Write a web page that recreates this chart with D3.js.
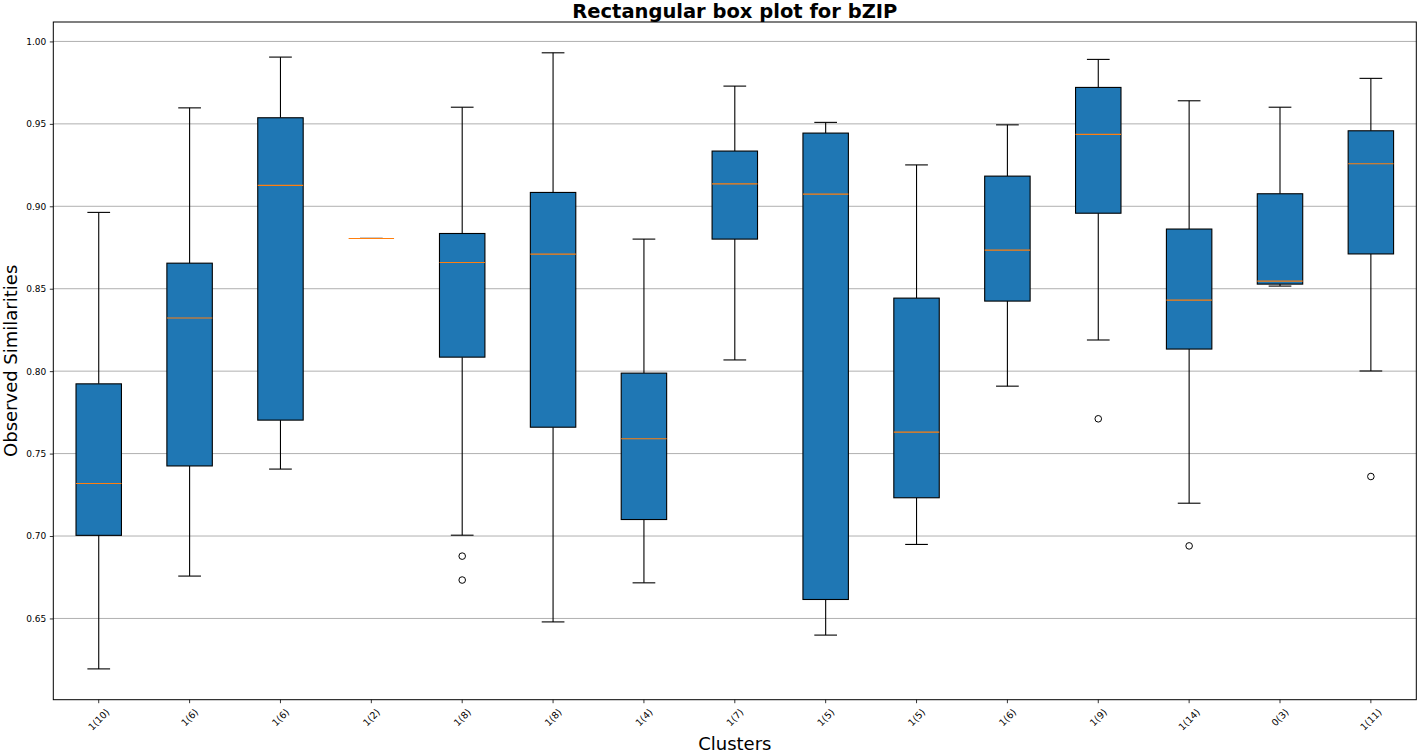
<!DOCTYPE html>
<html>
<head>
<meta charset="utf-8">
<script src="https://cdn.jsdelivr.net/npm/d3@7/dist/d3.min.js"></script>
<style>
  html, body { margin: 0; padding: 0; background: #fff; }
  svg { display: block; font-family: "DejaVu Sans", sans-serif; }
</style>
</head>
<body>
<svg id="chart" width="1417" height="753"></svg>
<script>
// ---- data ----
const categories = ["1(10)", "1(6)", "1(6)", "1(2)", "1(8)", "1(8)", "1(4)", "1(7)", "1(5)", "1(5)", "1(6)", "1(9)", "1(14)", "0(3)", "1(11)"];
const whiskerLow  = [0.6194, 0.6757, 0.7406, 0.8805, 0.7005, 0.6479, 0.6716, 0.8068, 0.6399, 0.6949, 0.7909, 0.8189, 0.7199, 0.8516, 0.8001];
const q1Values    = [0.7004, 0.7425, 0.7703, 0.8805, 0.8085, 0.7660, 0.7100, 0.8801, 0.6615, 0.7232, 0.8425, 0.8958, 0.8134, 0.8528, 0.8711];
const medians     = [0.7319, 0.8322, 0.9127, 0.8805, 0.8659, 0.8710, 0.7590, 0.9136, 0.9074, 0.7630, 0.8734, 0.9436, 0.8431, 0.8546, 0.9258];
const q3Values    = [0.7923, 0.8655, 0.9537, 0.8805, 0.8835, 0.9084, 0.7988, 0.9335, 0.9444, 0.8443, 0.9183, 0.9721, 0.8862, 0.9076, 0.9458];
const whiskerHigh = [0.8963, 0.9597, 0.9905, 0.8805, 0.9601, 0.9931, 0.8801, 0.9729, 0.9509, 0.9251, 0.9494, 0.9891, 0.9640, 0.9601, 0.9776];
const outlierIdx  = [4, 4, 11, 12, 14];
const outlierVal  = [0.6878, 0.6733, 0.7711, 0.6940, 0.7361];
const yTicks      = [0.65, 0.70, 0.75, 0.80, 0.85, 0.90, 0.95, 1.00];

const titleText = "Rectangular box plot for bZIP";
const xLabel = "Clusters";
const yLabel = "Observed Similarities";

// ---- layout ----
const W = 1417, H = 753;
const m = { left: 53.3, right: W - 1416.3, top: 22, bottom: H - 699.7 };
const svg = d3.select("#chart");

const allVals = whiskerLow.concat(whiskerHigh, outlierVal);
const dMin = d3.min(allVals), dMax = d3.max(allVals);
const pad = (dMax - dMin) * 0.05;

const x = d3.scaleBand().domain(d3.range(categories.length))
  .range([m.left, W - m.right]).paddingInner(0).paddingOuter(0);
const y = d3.scaleLinear().domain([dMin - pad, dMax + pad])
  .range([H - m.bottom, m.top]);

const bw = x.bandwidth();
const cx = i => x(i) + bw / 2;

// grid lines
svg.append("g").selectAll("line").data(yTicks).join("line")
  .attr("x1", m.left).attr("x2", W - m.right)
  .attr("y1", d => y(d)).attr("y2", d => y(d))
  .attr("stroke", "#b0b0b0").attr("stroke-width", 1);

// axes
const yAxis = svg.append("g").attr("transform", `translate(${m.left},0)`)
  .call(d3.axisLeft(y).tickValues(yTicks).tickFormat(d3.format(".2f")).tickSize(3.5).tickPadding(3.5));
yAxis.select(".domain").remove();
yAxis.selectAll("line").attr("stroke", "#000").attr("stroke-width", 0.8);
yAxis.selectAll("text").attr("font-size", 9).attr("fill", "#000")
  .attr("font-family", "DejaVu Sans, sans-serif");

const xAxis = svg.append("g").attr("transform", `translate(0,${H - m.bottom})`)
  .call(d3.axisBottom(x).tickFormat(i => categories[i]).tickSize(3.5).tickPadding(3.5));
xAxis.select(".domain").remove();
xAxis.selectAll("line").attr("stroke", "#000").attr("stroke-width", 0.8);
xAxis.selectAll("text").attr("font-size", 9.5).attr("fill", "#000")
  .attr("font-family", "DejaVu Sans, sans-serif")
  .attr("text-anchor", "middle").attr("dy", null)
  .attr("dominant-baseline", "central")
  .each(function() {
    const t = d3.select(this);
    const w = this.getComputedTextLength();
    const h = 10.5;
    const c = (w + h) / (2 * Math.SQRT2);
    t.attr("y", null).attr("transform", `translate(0,${7 + c}) rotate(-45)`);
  });

// boxes
const g = svg.append("g");
const idx = d3.range(categories.length);

// whiskers
g.selectAll(".wl").data(idx).join("line")
  .attr("x1", cx).attr("x2", cx)
  .attr("y1", i => y(whiskerLow[i])).attr("y2", i => y(q1Values[i]))
  .attr("stroke", "#000").attr("stroke-width", 1.1);
g.selectAll(".wh").data(idx).join("line")
  .attr("x1", cx).attr("x2", cx)
  .attr("y1", i => y(q3Values[i])).attr("y2", i => y(whiskerHigh[i]))
  .attr("stroke", "#000").attr("stroke-width", 1.1);
// caps
[whiskerLow, whiskerHigh].forEach(arr => {
  g.append("g").selectAll("line").data(idx).join("line")
    .attr("x1", i => cx(i) - bw * 0.125).attr("x2", i => cx(i) + bw * 0.125)
    .attr("y1", i => y(arr[i])).attr("y2", i => y(arr[i]))
    .attr("stroke", "#000").attr("stroke-width", 1.1);
});
// box rects
g.append("g").selectAll("rect").data(idx).join("rect")
  .attr("x", i => cx(i) - bw * 0.25).attr("width", bw * 0.5)
  .attr("y", i => y(q3Values[i])).attr("height", i => y(q1Values[i]) - y(q3Values[i]))
  .attr("fill", "#1f77b4").attr("stroke", "#000").attr("stroke-width", 1.1);
// medians
g.append("g").selectAll("line").data(idx).join("line")
  .attr("x1", i => cx(i) - bw * 0.25).attr("x2", i => cx(i) + bw * 0.25)
  .attr("y1", i => y(medians[i])).attr("y2", i => y(medians[i]))
  .attr("stroke", "#ff7f0e").attr("stroke-width", 1.1);
// outliers
g.append("g").selectAll("circle").data(d3.range(outlierIdx.length)).join("circle")
  .attr("cx", k => cx(outlierIdx[k])).attr("cy", k => y(outlierVal[k]))
  .attr("r", 3.3).attr("fill", "none").attr("stroke", "#000").attr("stroke-width", 1);

// frame
svg.append("rect").attr("x", m.left).attr("y", m.top)
  .attr("width", W - m.right - m.left).attr("height", H - m.bottom - m.top)
  .attr("fill", "none").attr("stroke", "#000").attr("stroke-width", 1);

// labels
svg.append("text").attr("x", (m.left + W - m.right) / 2).attr("y", 18)
  .attr("text-anchor", "middle").attr("font-size", 19.5).attr("font-weight", "bold")
  .attr("fill", "#000").text(titleText);
svg.append("text").attr("x", (m.left + W - m.right) / 2).attr("y", 750)
  .attr("text-anchor", "middle").attr("font-size", 18).attr("fill", "#000").text(xLabel);
svg.append("text").attr("transform", `translate(17,${(m.top + H - m.bottom) / 2}) rotate(-90)`)
  .attr("text-anchor", "middle").attr("font-size", 18).attr("fill", "#000").text(yLabel);
</script>
</body>
</html>
